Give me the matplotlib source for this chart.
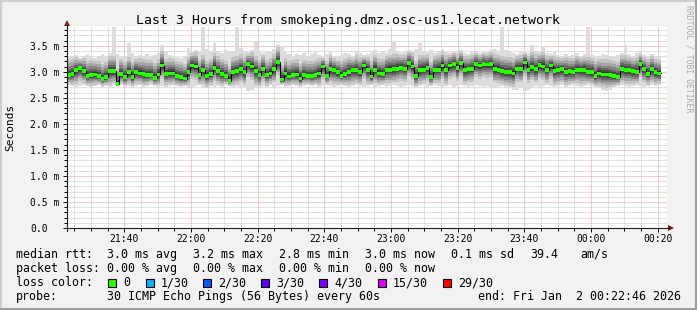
import numpy as np
import pandas as pd
import matplotlib
matplotlib.use("Agg")
import matplotlib.pyplot as plt
import matplotlib.dates as mdates
from matplotlib.ticker import FixedLocator, MultipleLocator, NullFormatter
from matplotlib.patches import Polygon, Rectangle
from matplotlib.lines import Line2D

plt.rcParams['font.family'] = ['DejaVu Sans Mono', 'DejaVu Sans']

# ---------------- data ----------------
title = "Last 3 Hours from smokeping.dmz.osc-us1.lecat.network"
start = pd.Timestamp("2026-01-01 21:22:46")
end = pd.Timestamp("2026-01-02 00:22:46")
data_end = pd.Timestamp("2026-01-02 00:20:58")

median_ms = [
    2.94, 2.96, 3.03, 3.07, 3.01, 2.92, 2.94, 2.95, 2.92, 2.86,
    2.90, 3.01, 3.01, 2.77, 2.96, 2.90, 2.99, 2.90, 3.00, 2.97,
    2.96, 2.94, 2.94, 2.88, 2.95, 3.12, 2.96, 2.97, 2.97, 2.92,
    2.90, 2.87, 3.00, 3.12, 3.10, 2.94, 3.03, 2.92, 2.96, 3.08,
    3.01, 2.96, 2.92, 2.83, 2.99, 3.01, 3.05, 2.99, 3.15, 3.10,
    3.01, 2.94, 3.06, 2.94, 2.97, 3.05, 3.19, 2.85, 2.97, 2.91,
    2.94, 2.95, 2.87, 2.94, 2.92, 2.92, 2.94, 2.97, 3.10, 2.92,
    3.05, 3.03, 2.99, 2.92,
    2.96, 3.00, 3.03, 3.03, 2.99, 3.12, 3.03, 2.91, 3.04, 2.97,
    2.96, 3.04, 3.04, 3.05, 3.06, 3.08, 3.06, 3.17, 3.10, 2.92,
    3.03, 3.04, 3.07, 2.90, 3.04, 3.04, 3.12, 3.03, 3.12, 3.15,
    3.07, 3.17, 3.03, 3.05, 3.06, 3.15, 3.12, 3.15, 3.14, 3.15,
    3.05, 3.04, 3.01, 3.00, 2.99, 2.97, 3.06, 3.05, 3.18, 3.04,
    3.09, 3.05, 3.13, 3.10, 3.04, 3.12, 3.01, 3.03, 3.05, 3.00,
    3.01, 2.99, 3.04, 3.03, 3.03, 3.00, 2.99, 2.92, 2.97, 2.95,
    2.95, 2.94, 2.92, 2.90, 3.05, 3.03, 3.03, 3.01, 3.00, 3.15,
    3.05, 2.96, 3.05, 2.99, 2.97,
]

ping_max_ms = [
    3.28, 3.30, 3.32, 3.27, 3.30, 3.35, 3.28, 3.26, 3.30, 3.34,
    3.30, 3.36, 3.86, 3.34, 3.30, 3.28, 3.55, 3.36, 3.30, 3.32,
    3.30, 3.34, 3.28, 3.32, 3.36, 3.52, 3.40, 3.32, 3.30, 3.28,
    3.26, 3.30, 3.45, 3.40, 3.42, 3.38, 3.86, 3.44, 3.40, 3.55,
    3.40, 3.36, 3.42, 3.38, 3.40, 3.86, 3.45, 3.40, 3.38, 3.42,
    3.60, 3.40, 3.36, 3.40, 3.38, 3.44, 3.52, 3.50, 3.38, 3.34,
    3.30, 3.34, 3.32, 3.36, 3.30, 3.34, 3.38, 3.32, 3.30, 3.34,
    3.38, 3.30, 3.28, 3.32, 3.36, 3.34, 3.30, 3.40, 3.36, 3.32,
    3.34, 3.38, 3.42, 3.36, 3.40, 3.36, 3.44, 3.58, 3.40, 3.36,
    3.38, 3.42, 3.40, 3.44, 3.55, 3.40, 3.38, 3.42, 3.36, 3.40,
    3.44, 3.38, 3.36, 3.40, 3.38, 3.42, 3.36, 3.34, 3.38, 3.40,
    3.36, 3.40, 3.38, 3.42, 3.44, 3.40, 3.86, 3.42, 3.38, 3.36,
    3.34, 3.38, 3.40, 3.36, 3.52, 3.40, 3.38, 3.50, 3.36, 3.34,
    3.38, 3.32, 3.30, 3.34, 3.30, 3.32, 3.36, 3.30, 3.34, 3.86,
    3.32, 3.28, 3.30, 3.34, 3.32, 3.30, 3.28, 3.32, 3.36, 3.52,
    3.34, 3.30, 3.36, 3.38, 3.32, 3.30, 3.34, 3.30, 3.28,
]

ping_min_ms = [
    2.74, 2.72, 2.70, 2.73, 2.75, 2.72, 2.70, 2.72, 2.74, 2.71,
    2.72, 2.70, 2.74, 2.72, 2.75, 2.71, 2.73, 2.70, 2.72, 2.74,
    2.70, 2.72, 2.75, 2.72, 2.70, 2.73, 2.71, 2.72, 2.74, 2.72,
    2.70, 2.72, 2.68, 2.70, 2.72, 2.74, 2.70, 2.68, 2.72, 2.70,
    2.72, 2.70, 2.74, 2.72, 2.70, 2.72, 2.68, 2.70, 2.64, 2.66,
    2.70, 2.68, 2.72, 2.70, 2.74, 2.70, 2.72, 2.74, 2.70, 2.72,
    2.74, 2.72, 2.70, 2.73, 2.75, 2.72, 2.74, 2.70, 2.72, 2.74,
    2.72, 2.70, 2.73, 2.75, 2.72, 2.70, 2.72, 2.74, 2.72, 2.70,
    2.72, 2.74, 2.70, 2.72, 2.74, 2.70, 2.72, 2.74, 2.72, 2.70,
    2.72, 2.74, 2.72, 2.70, 2.72, 2.74, 2.70, 2.72, 2.74, 2.72,
    2.70, 2.72, 2.74, 2.70, 2.72, 2.74, 2.72, 2.70, 2.72, 2.74,
    2.72, 2.70, 2.72, 2.70, 2.68, 2.70, 2.72, 2.70, 2.68, 2.66,
    2.66, 2.68, 2.64, 2.66, 2.70, 2.72, 2.70, 2.72, 2.74, 2.72,
    2.70, 2.72, 2.74, 2.70, 2.72, 2.74, 2.72, 2.70, 2.72, 2.74,
    2.72, 2.70, 2.68, 2.66, 2.64, 2.66, 2.70, 2.72, 2.74, 2.72,
    2.70, 2.72, 2.74, 2.72, 2.70, 2.72, 2.74, 2.72, 2.74,
]

y_ticks = [0.0, 0.5, 1.0, 1.5, 2.0, 2.5, 3.0, 3.5]
y_tick_labels = ["0.0", "0.5 m", "1.0 m", "1.5 m", "2.0 m", "2.5 m", "3.0 m", "3.5 m"]
y_max = 3.88
y_label = "Seconds"

rtt_names = ["avg", "max", "min", "now", "sd"]
rtt_values = [3.0, 3.2, 2.8, 3.0, 0.1]
am_s = 39.4
loss_names = ["avg", "max", "min", "now"]
loss_values = [0.00, 0.00, 0.00, 0.00]
loss_labels = ["0", "1/30", "2/30", "3/30", "4/30", "15/30", "29/30"]
loss_colors = ["#26ff00", "#00b8ff", "#0059ff", "#5e00ff", "#7e00ff", "#dd00ff", "#ff0000"]
probe_text = "30 ICMP Echo Pings (56 Bytes) every 60s"
end_text = "end: Fri Jan  2 00:22:46 2026"
watermark = "RRDTOOL / TOBI OETIKER"

assert len(median_ms) == len(ping_max_ms) == len(ping_min_ms)

# ---------------- figure ----------------
W, H = 697, 310
FS = 8.4      # legend font
AFS = 7.0     # axis font
fig = plt.figure(figsize=(W / 100, H / 100), dpi=100, facecolor="#f2f2f2")

def fx(x):
    return x / W

def fy(y):
    return 1 - y / H

PL, PR, PT, PB = 67, 667, 26, 228
ax = fig.add_axes([fx(PL), fy(PB), (PR - PL) / W, (PB - PT) / H])
ax.set_facecolor("white")

med = np.array(median_ms)
hi = np.array(ping_max_ms)
lo = np.array(ping_min_ms)
n = len(med)
dt0, dt1 = start.to_pydatetime(), end.to_pydatetime()
t0 = mdates.date2num(dt0)
t1 = mdates.date2num(dt1)
td = mdates.date2num(data_end.to_pydatetime())
x = np.linspace(t0, td, n + 1)

def ext(a):
    return np.append(a, a[-1])

ax.set_xlim(t0, t1)
ax.set_ylim(0, y_max)

# grid (dotted, underneath the graph elements)
maj_loc = mdates.MinuteLocator(byminute=[0, 20, 40])
min_loc = mdates.MinuteLocator(byminute=range(0, 60, 5))
xmaj = [v for v in maj_loc.tick_values(dt0, dt1) if t0 < v < t1]
xmin_ = [v for v in min_loc.tick_values(dt0, dt1)
         if t0 < v < t1 and all(abs(v - m) > 1e-6 for m in xmaj)]
ymin_ = [v for v in np.arange(0.1, y_max, 0.1) if abs(v / 0.5 - round(v / 0.5)) > 1e-6]
ymaj = [v for v in y_ticks if v > 0]

dot = (0, (1, 1))
gcol, mcol = "#c6c6c6", "#eb9494"
ax.vlines(xmin_, 0, y_max, colors=gcol, linestyles=dot, lw=0.72, zorder=0.5)
ax.hlines(ymin_, t0, t1, colors=gcol, linestyles=dot, lw=0.72, zorder=0.5)
ax.vlines(xmaj, 0, y_max, colors=mcol, linestyles=dot, lw=0.72, zorder=0.6)
ax.hlines(ymaj, t0, t1, colors=mcol, linestyles=dot, lw=0.72, zorder=0.6)

# smoke: outer extremes, then progressively darker inner layers
ax.fill_between(x, ext(lo), ext(hi), step="post", color="#dcdcdc", lw=0, zorder=1)
up = np.minimum(hi - med, 0.34)
dn = np.minimum(med - lo, 0.30)
layers = [(0.85, "#c4c4c4"), (0.66, "#a6a6a6"), (0.50, "#878787"),
          (0.36, "#686868"), (0.24, "#4a4a4a"), (0.13, "#2e2e2e")]
for frac, col in layers:
    ax.fill_between(x, ext(med - dn * frac), ext(med + up * frac), step="post",
                    color=col, lw=0, zorder=1)

# median line + loss-colored marker band
ax.step(x, ext(med), where="post", color="black", lw=0.8, zorder=4)
ax.fill_between(x, ext(med - 0.036), ext(med + 0.036), step="post",
                color=loss_colors[0], lw=0, zorder=5)

ax.xaxis.set_major_locator(maj_loc)
ax.xaxis.set_minor_locator(min_loc)
ax.xaxis.set_major_formatter(mdates.DateFormatter("%H:%M"))
ax.yaxis.set_major_locator(FixedLocator(y_ticks))
ax.yaxis.set_minor_locator(MultipleLocator(0.1))
ax.yaxis.set_major_formatter(NullFormatter())

for s in ax.spines.values():
    s.set_visible(False)
ax.tick_params(which="major", length=3, width=0.7, color="black", direction="out",
               labelsize=AFS, pad=1.5)
ax.tick_params(which="minor", length=2, width=0.7, color="black", direction="out")

for v, lab in zip(y_ticks, y_tick_labels):
    ax.text((30 - PL) / (PR - PL), v, lab, transform=ax.get_yaxis_transform(),
            ha="left", va="center_baseline", fontsize=AFS)

# axes lines and arrows
fig.add_artist(Line2D([fx(64), fx(669)], [fy(228), fy(228)], color="#1f1f1f", lw=0.8))
fig.add_artist(Line2D([fx(67), fx(67)], [fy(231), fy(25)], color="#1f1f1f", lw=0.8))
fig.add_artist(Polygon([[fx(668), fy(225)], [fx(668), fy(231)], [fx(674), fy(228)]],
                       closed=True, color="#7f1f1f", lw=0))
fig.add_artist(Polygon([[fx(64), fy(26)], [fx(70), fy(26)], [fx(67), fy(20)]],
                       closed=True, color="#7f1f1f", lw=0))

# title, axis label, watermark
fig.text(fx(347.5), fy(24), title, ha="center", va="baseline", fontsize=9.5)
fig.text(fx(10), fy(127), y_label, ha="center", va="center", rotation=90, fontsize=8.0)
fig.text(fx(689), fy(59), watermark, ha="center", va="center", rotation=270,
         fontsize=5.9, color="#a8a8a8")

# legend rows
r1, r2, r3, r4 = 257.7, 272.0, 286.0, 300.3
fig.text(fx(16), fy(r1), "median rtt:", fontsize=FS, va="baseline")
rtt_x = [107, 193, 279, 365, 451]
for xx, nm, v in zip(rtt_x, rtt_names, rtt_values):
    fig.text(fx(xx), fy(r1), f"{v:.1f} ms {nm}", fontsize=FS, va="baseline")
fig.text(fx(530), fy(r1), f"{am_s:.1f}", fontsize=FS, va="baseline")
fig.text(fx(580), fy(r1), "am/s", fontsize=FS, va="baseline")

fig.text(fx(16), fy(r2), "packet loss:", fontsize=FS, va="baseline")
loss_x = [107, 193, 279, 365]
for xx, nm, v in zip(loss_x, loss_names, loss_values):
    fig.text(fx(xx), fy(r2), f"{v:.2f} % {nm}", fontsize=FS, va="baseline")

fig.text(fx(16), fy(r3), "loss color:", fontsize=FS, va="baseline")
box_x = [108, 146, 203, 261, 319, 378, 443]
for bx, lab, col in zip(box_x, loss_labels, loss_colors):
    fig.add_artist(Rectangle((fx(bx), fy(287)), 8 / W, 8 / H, facecolor=col,
                             edgecolor="black", lw=0.8))
    fig.text(fx(bx + 15), fy(r3), lab, fontsize=FS, va="baseline")

fig.text(fx(16), fy(r4), "probe:", fontsize=FS, va="baseline")
fig.text(fx(107), fy(r4), probe_text, fontsize=FS, va="baseline")
fig.text(fx(681), fy(r4), end_text, fontsize=FS, va="baseline", ha="right")

# 3D-ish frame
fig.add_artist(Line2D([0, 1], [fy(0.8), fy(0.8)], color="#cfcfcf", lw=1.5))
fig.add_artist(Line2D([fx(0.8), fx(0.8)], [0, 1], color="#cfcfcf", lw=1.5))
fig.add_artist(Line2D([0, 1], [fy(309.2), fy(309.2)], color="#9e9e9e", lw=1.5))
fig.add_artist(Line2D([fx(696.2), fx(696.2)], [0, 1], color="#9e9e9e", lw=1.5))

fig.savefig("out.png", dpi=100, facecolor=fig.get_facecolor())
